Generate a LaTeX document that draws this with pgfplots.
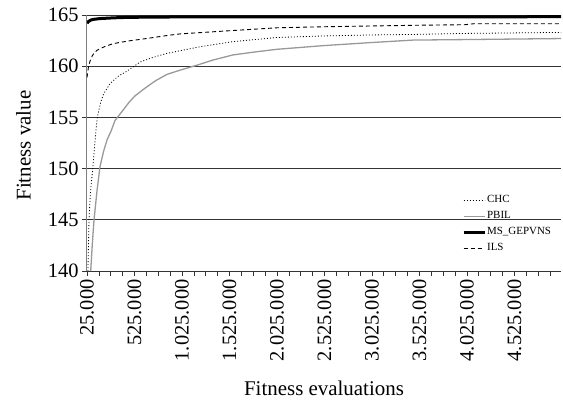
\documentclass[border=0pt]{standalone}
\usepackage{fontspec}
\setmainfont{Liberation Serif}
\usepackage{pgfplots}
\pgfplotsset{compat=1.18}
\usepackage{pgfplotstable}

% evaluations in thousands
\pgfplotstableread{
x y
25 164.2
45 164.4
65 164.5
90 164.57
160 164.65
300 164.72
450 164.77
800 164.8
1200 164.82
5015 164.83
}\msgep
\pgfplotstableread{
x y
25 158.9
40 159.9
57 160.5
80 161.0
100 161.3
130 161.55
160 161.7
220 161.95
300 162.2
450 162.45
650 162.7
870 163.0
1000 163.15
1500 163.45
2025 163.75
2500 163.85
3035 163.93
3500 164.0
4000 164.05
4100 164.15
5015 164.15
}\ils
\pgfplotstableread{
x y
35 140.0
46 145.0
60 147.5
85 150.0
110 152.8
133 155.0
170 156.5
200 157.3
267 158.3
350 159.0
443 159.5
583 160.4
700 160.8
864 161.25
1000 161.5
1214 161.9
1562 162.4
2022 162.8
2500 162.95
3000 163.05
3457 163.1
4000 163.2
5015 163.3
}\chc
\pgfplotstableread{
x y
64 140.0
80 142.5
99 145.0
130 147.8
162 150.2
200 151.7
236 152.8
280 153.7
320 154.7
404 155.7
470 156.5
530 157.1
600 157.6
657 158.0
750 158.6
867 159.2
1000 159.6
1183 160.1
1350 160.6
1562 161.1
1800 161.4
2025 161.65
2500 162.0
3000 162.3
3456 162.55
4000 162.6
5015 162.7
}\pbil

\begin{document}
\begin{tikzpicture}
\useasboundingbox (-87bp,-130bp) rectangle (476bp,271bp);
\begin{axis}[
    scale only axis,
    width=474bp, height=256bp,
    xmin=25, xmax=5015,
    ymin=140, ymax=165,
    axis x line=bottom, axis y line=left,
    x axis line style={-, black!80, line width=0.8bp},
    y axis line style={-, black!50, line width=1bp},
    ytick={140,145,...,165},
    xtick={25,525,...,4525},
    xticklabels={25.000,525.000,1.025.000,1.525.000,2.025.000,2.525.000,3.025.000,3.525.000,4.025.000,4.525.000},
    minor xtick={150,275,...,4900},
    tick align=outside,
    major tick length=5bp, minor tick length=5bp,
    tick style={black!80, line width=0.7bp},
    ymajorgrids,
    grid style={black!80, line width=0.9bp},
    /pgf/number format/assume math mode=true,
    tick label style={font=\fontsize{20.5}{24}\selectfont},
    x tick label style={rotate=90, anchor=east},
    label style={font=\fontsize{21}{25}\selectfont},
    xlabel={Fitness evaluations},
    ylabel={Fitness value},
    xlabel style={at={(axis description cs:0.5,-0.488)}, anchor=base},
    ylabel style={at={(axis description cs:-0.134,0.49)}, anchor=center},
    legend image code/.code={\draw[#1] (0bp,0bp) -- (21bp,0bp);},
    legend cell align=left,
    legend style={at={(rel axis cs:0.791,0.302)}, anchor=north west,
        draw=none, fill=none, inner sep=0pt, row sep=3bp,
        font=\fontsize{11}{13}\selectfont,
        nodes={inner sep=1bp, text height=8bp, text depth=3bp}},
]
\addplot[black, line width=0.8bp, dash pattern=on 1bp off 2bp] table[x=x,y=y] {\chc};
\addlegendentry{CHC}
\addplot[black!40, line width=1.3bp] table[x=x,y=y] {\pbil};
\addlegendentry{PBIL}
\addplot[black, line width=3bp] table[x=x,y=y] {\msgep};
\addlegendentry{MS\_GEPVNS}
\addplot[black, line width=0.9bp, dash pattern=on 4bp off 3bp] table[x=x,y=y] {\ils};
\addlegendentry{ILS}
\end{axis}
\end{tikzpicture}
\end{document}
